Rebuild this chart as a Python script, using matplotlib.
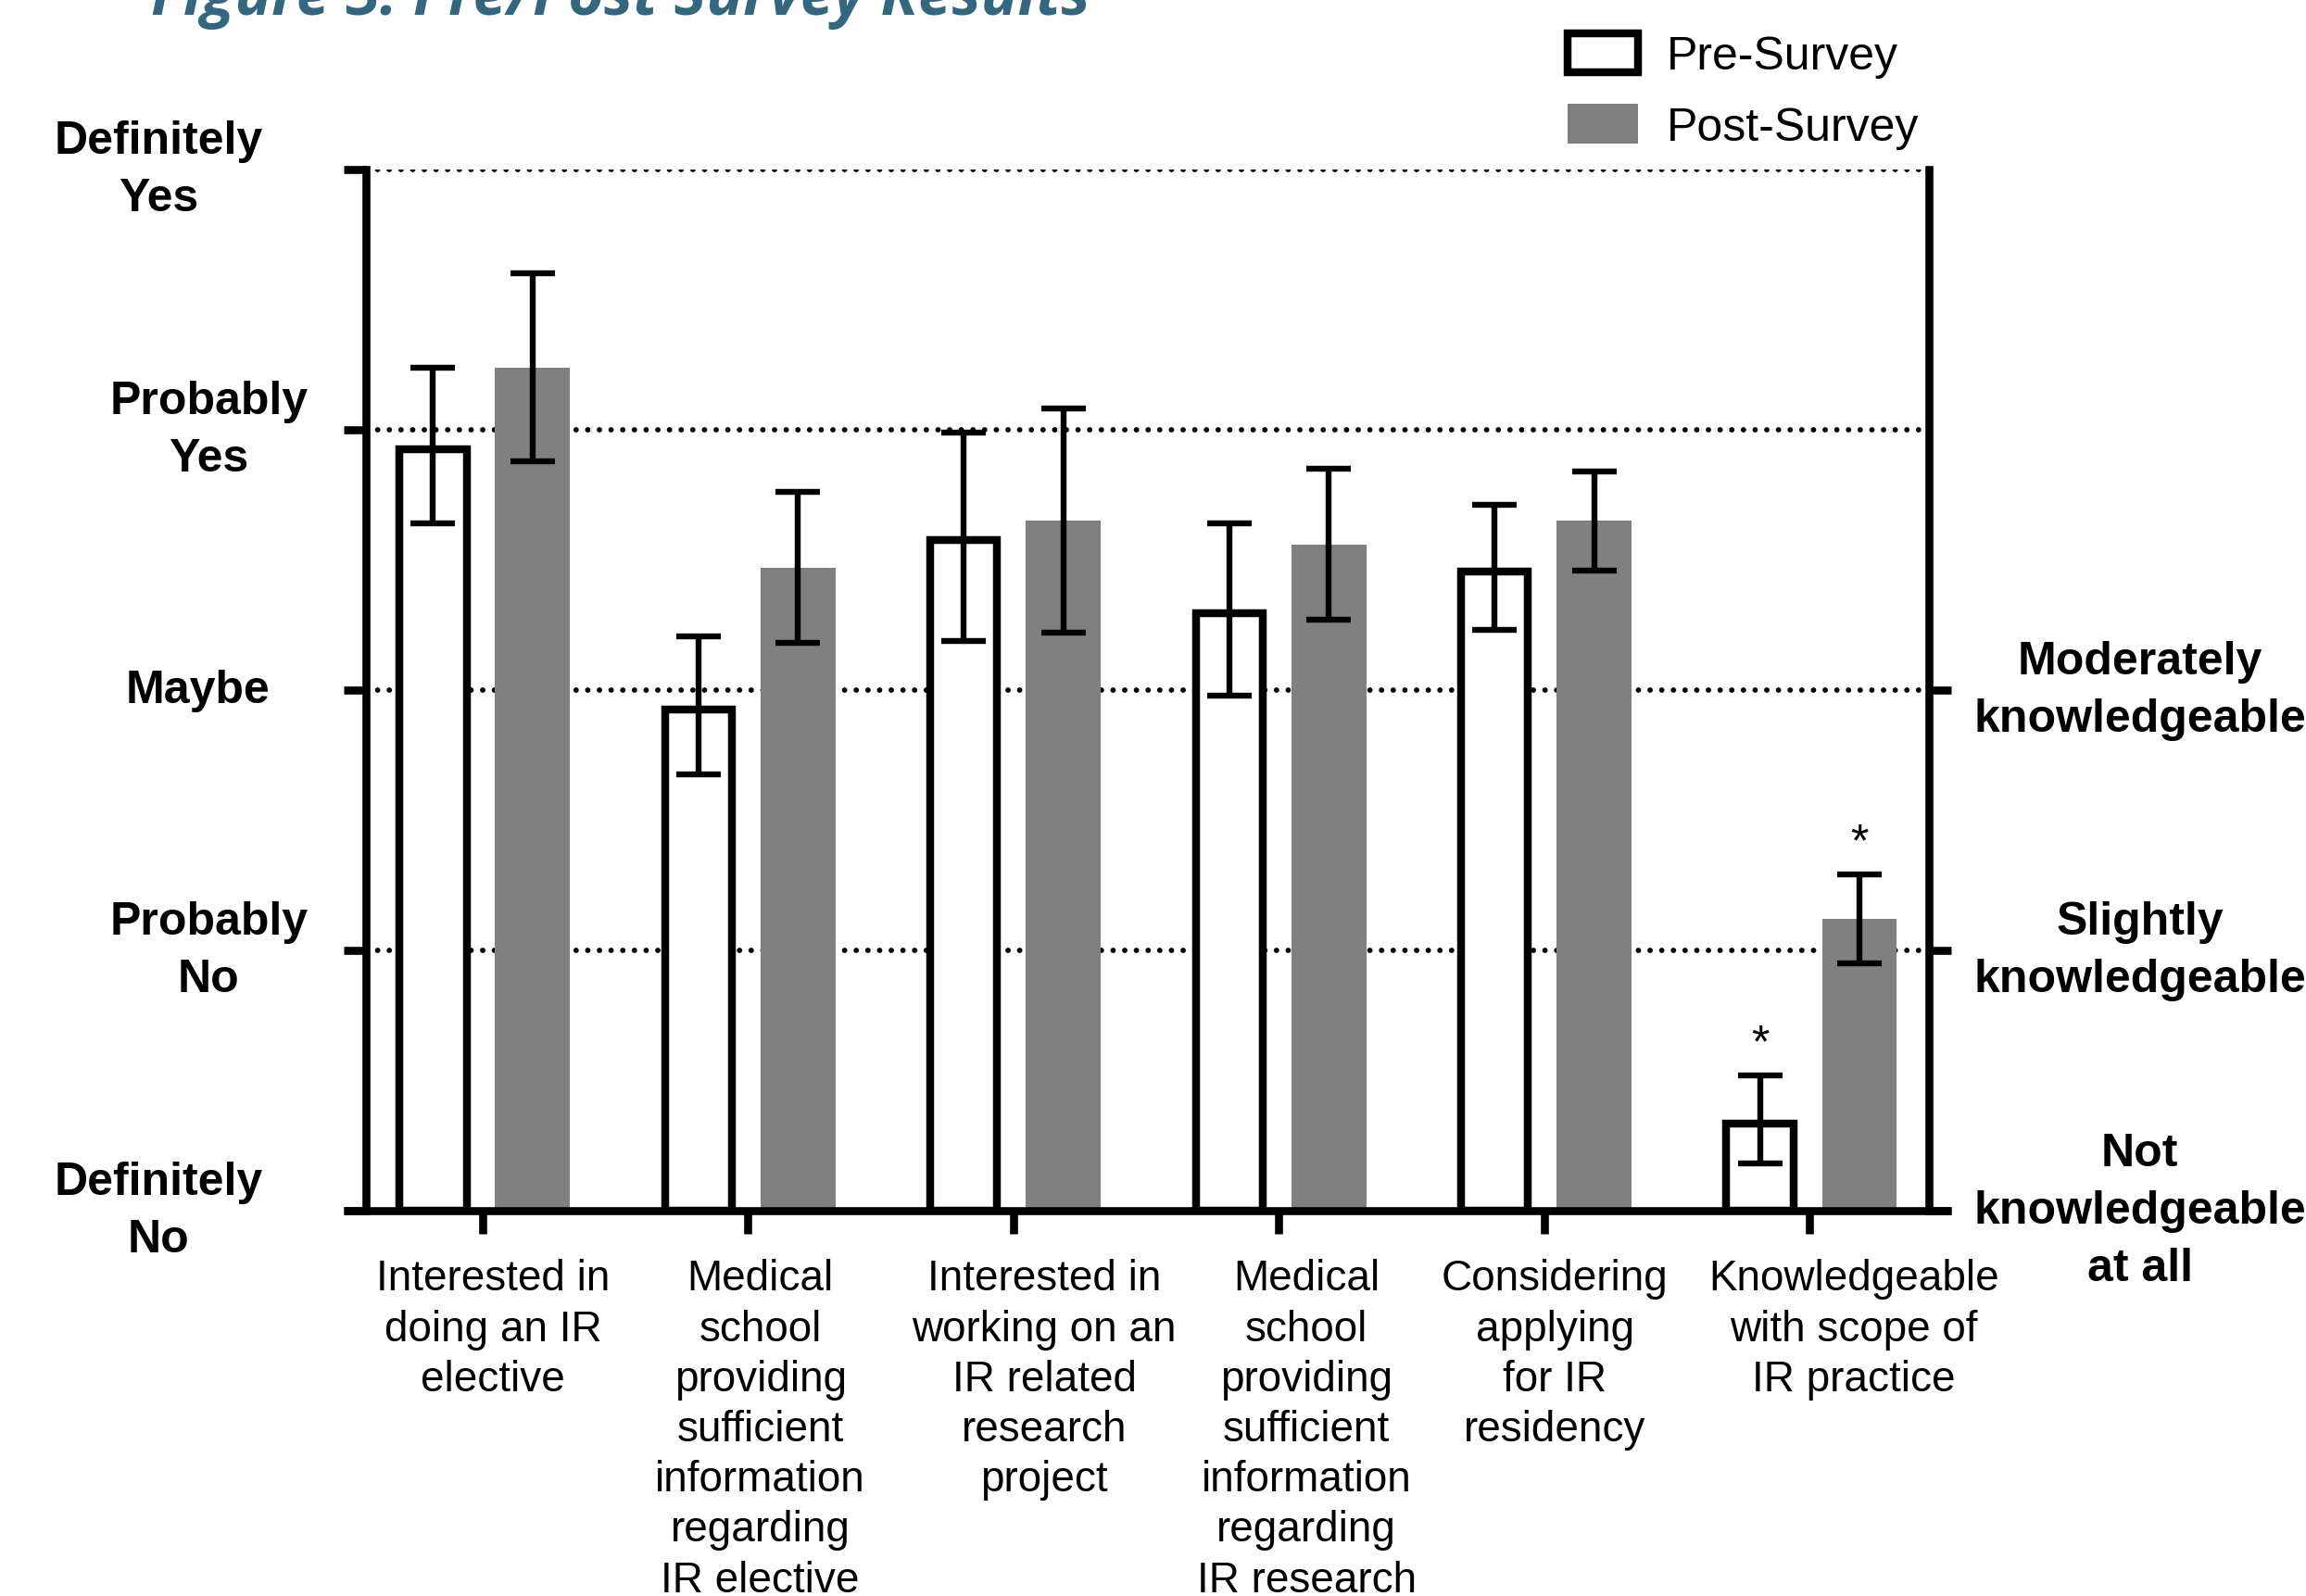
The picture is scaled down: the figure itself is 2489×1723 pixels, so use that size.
"""Pre/post survey bar chart: paired bars with error bars on a Likert scale."""

import matplotlib
matplotlib.use("Agg")
import matplotlib.pyplot as plt
import matplotlib.transforms as mtransforms
import numpy as np

plt.rcParams["font.family"] = ["Liberation Sans", "DejaVu Sans"]

# ---- data -------------------------------------------------------------
CATEGORIES = [
    "Interested in\ndoing an IR\nelective",
    "Medical\nschool\nproviding\nsufficient\ninformation\nregarding\nIR elective",
    "Interested in\nworking on an\nIR related\nresearch\nproject",
    "Medical\nschool\nproviding\nsufficient\ninformation\nregarding\nIR research",
    "Considering\napplying\nfor IR\nresidency",
    "Knowledgeable\nwith scope of\nIR practice",
]
PRE_MEAN = [3.94, 2.94, 3.59, 3.31, 3.47, 1.35]
PRE_ERR = [0.30, 0.265, 0.40, 0.33, 0.24, 0.17]
POST_MEAN = [4.24, 3.47, 3.65, 3.56, 3.65, 2.12]
POST_ERR = [0.36, 0.29, 0.43, 0.29, 0.19, 0.17]
PRE_SIG = [False, False, False, False, False, True]
POST_SIG = [False, False, False, False, False, True]

LEFT_TICKS = [1, 2, 3, 4, 5]
LEFT_LABELS = ["Definitely\nNo", "Probably\nNo", "Maybe", "Probably\nYes", "Definitely\nYes"]
RIGHT_TICKS = [1, 2, 3]
RIGHT_LABELS = ["Not\nknowledgeable\nat all", "Slightly\nknowledgeable", "Moderately\nknowledgeable"]
GRID_LEVELS = [2, 3, 4, 5]

# ---- layout / style ---------------------------------------------------
DPI = 100
AX_RECT = [0.1587, 0.2413, 0.6778, 0.6520]
XLIM = (-0.44, 5.45)
YLIM = (1, 5)
BAR_W = 0.282
PRE_OFF = -0.187
POST_OFF = 0.188
LABEL_SHIFT = [0.038, 1.046, 2.116, 3.104, 4.040, 5.167]
LEFT_LABEL_X = [0.0688, 0.0905, 0.0856, 0.0905, 0.0688]
RIGHT_LABEL_X = 0.928
AXIS_LW = 6.2
EDGE_LW = 6.1
ERR_LW = 4.6
TICK_LEN = 17
GRAY = "#808080"


def plot_survey():
    fig = plt.figure(figsize=(2489 / DPI, 1724 / DPI), dpi=DPI)
    ax = fig.add_axes(AX_RECT)
    ax.set_xlim(*XLIM)
    ax.set_ylim(*YLIM)

    x = np.arange(len(CATEGORIES))
    pre = np.array(PRE_MEAN)
    post = np.array(POST_MEAN)

    # pixels per data unit, used to keep the pre-bar outline inside the bar
    ax_w = AX_RECT[2] * fig.get_figwidth() * DPI
    ax_h = AX_RECT[3] * fig.get_figheight() * DPI
    xppu = ax_w / (XLIM[1] - XLIM[0])
    yppu = ax_h / (YLIM[1] - YLIM[0])
    edge_px = EDGE_LW * DPI / 72

    # dotted reference lines
    for lvl in GRID_LEVELS:
        ax.axhline(lvl, color="black", lw=4.2, linestyle=(0, (0.01, 2.15)),
                   dash_capstyle="round", zorder=0.5)

    pre_bars = ax.bar(x + PRE_OFF, pre - 1 - edge_px / 2 / yppu, bottom=1,
                      width=BAR_W - edge_px / xppu, facecolor="white",
                      edgecolor="black", linewidth=EDGE_LW, zorder=2)
    post_bars = ax.bar(x + POST_OFF, post - 1, bottom=1, width=BAR_W,
                       color=GRAY, linewidth=0, zorder=2)

    err_kw = dict(fmt="none", ecolor="black", elinewidth=ERR_LW, capsize=17,
                  capthick=ERR_LW, zorder=3)
    ax.errorbar(x + PRE_OFF, pre, yerr=PRE_ERR, **err_kw)
    ax.errorbar(x + POST_OFF, post, yerr=POST_ERR, **err_kw)

    for xs, means, errs, sig in [(x + PRE_OFF, pre, PRE_ERR, PRE_SIG),
                                 (x + POST_OFF, post, POST_ERR, POST_SIG)]:
        for xi, m, e, s in zip(xs, means, errs, sig):
            if s:
                ax.annotate("*", xy=(xi, m + e), xytext=(0, 15),
                            textcoords="offset points", ha="center",
                            va="baseline", fontsize=36)

    # axes frame
    for side in ["top", "bottom", "right"]:
        ax.spines[side].set_visible(False)
    ax.spines["left"].set_linewidth(AXIS_LW)
    ext = TICK_LEN * DPI / 72 / ax_w
    ax.axhline(1, xmin=-ext, xmax=1 + ext, color="black", lw=AXIS_LW,
               clip_on=False, zorder=5, solid_capstyle="butt")

    ax.set_yticks(LEFT_TICKS)
    ax.set_yticklabels([])
    ax.set_xticks(x)
    ax.set_xticklabels([])
    ax.tick_params(axis="y", direction="out", length=TICK_LEN, width=AXIS_LW)
    ax.tick_params(axis="x", direction="out", length=18, width=AXIS_LW)

    ax2 = ax.twinx()
    ax2.set_ylim(*YLIM)
    for side in ["top", "bottom", "left"]:
        ax2.spines[side].set_visible(False)
    ax2.spines["right"].set_linewidth(AXIS_LW)
    ax2.set_yticks(RIGHT_TICKS)
    ax2.set_yticklabels([])
    ax2.tick_params(axis="y", direction="out", length=TICK_LEN, width=AXIS_LW)

    # axis labels
    trans = mtransforms.blended_transform_factory(fig.transFigure, ax.transData)
    for xf, y, lab in zip(LEFT_LABEL_X, LEFT_TICKS, LEFT_LABELS):
        ax.text(xf, y, lab, transform=trans, ha="center", va="center",
                fontsize=36, fontweight="bold", linespacing=1.45)
    for y, lab in zip(RIGHT_TICKS, RIGHT_LABELS):
        ax.text(RIGHT_LABEL_X, y, lab, transform=trans, ha="center",
                va="center", fontsize=36, fontweight="bold", linespacing=1.45)

    for xs, lab in zip(LABEL_SHIFT, CATEGORIES):
        ax.annotate(lab, xy=(xs, 0), xycoords=("data", "axes fraction"),
                    xytext=(0, -37), textcoords="offset points", ha="center",
                    va="top", fontsize=33, linespacing=1.3)

    fig.legend([pre_bars, post_bars], ["Pre-Survey", "Post-Survey"],
               loc="upper left", bbox_to_anchor=(0.6798, 0.9785),
               frameon=False, fontsize=36, handlelength=1.52,
               handleheight=0.92, handletextpad=0.62, labelspacing=0.56,
               borderpad=0, borderaxespad=0)

    fig.text(163 / 2489, 1 - 16 / 1724, "Figure 3: Pre/Post Survey Results",
             family="Open Sans", fontsize=47.5, fontweight="bold",
             style="italic", color="#33667f", ha="left", va="baseline")
    return fig


if __name__ == "__main__":
    fig = plot_survey()
    fig.savefig("out.png", dpi=DPI)
